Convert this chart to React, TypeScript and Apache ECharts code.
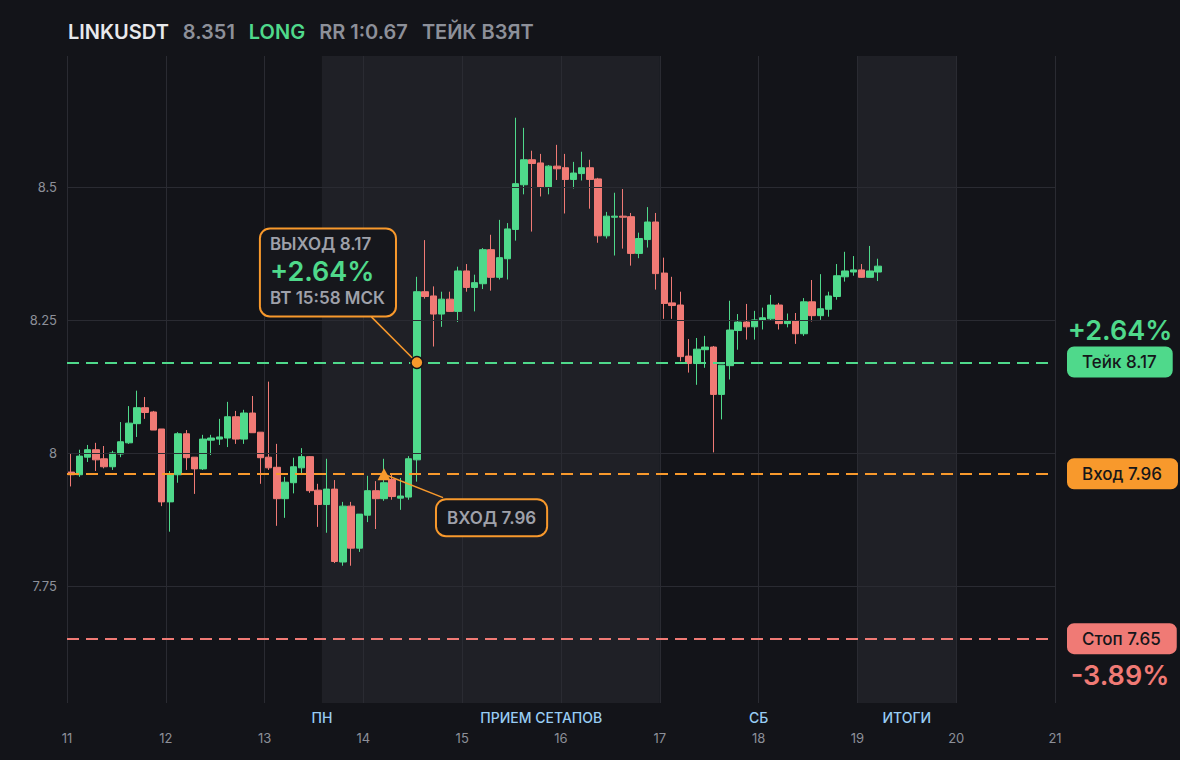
import React, { useEffect, useRef } from "react";
import * as echarts from "echarts";

// ---- data (2h candles, 12 per day, starting at day 11) ----
const startDay = 11;
const candlesPerDay = 12;
const opens = [
  7.964, 7.959, 7.992, 8.006, 7.989, 7.974, 7.998, 8.019, 8.055, 8.085,
  8.077, 8.045, 7.908, 7.959, 8.036, 7.992, 7.970, 8.024, 8.026, 8.028,
  8.068, 8.026, 8.075, 8.039, 7.992, 7.973, 7.914, 7.944, 7.972, 7.993,
  7.930, 7.903, 7.932, 7.795, 7.900, 7.821, 7.883, 7.929, 7.914, 7.950,
  7.915, 7.917, 7.987, 8.303, 8.295, 8.261, 8.289, 8.266, 8.342, 8.311,
  8.318, 8.382, 8.330, 8.365, 8.420, 8.504, 8.551, 8.545, 8.500, 8.539,
  8.536, 8.514, 8.525, 8.536, 8.515, 8.408, 8.443, 8.445, 8.444, 8.375,
  8.401, 8.434, 8.338, 8.282, 8.278, 8.182, 8.168, 8.194, 8.199, 8.110,
  8.164, 8.230, 8.246, 8.237, 8.249, 8.252, 8.278, 8.243, 8.248, 8.224,
  8.284, 8.258, 8.270, 8.294, 8.331, 8.340, 8.344, 8.330, 8.340,
];
const closes = [
  7.959, 7.994, 8.006, 7.987, 7.974, 8.000, 8.021, 8.056, 8.085, 8.076,
  8.043, 7.908, 7.959, 8.036, 7.991, 7.970, 8.026, 8.028, 8.030, 8.068,
  8.026, 8.075, 8.038, 7.991, 7.972, 7.914, 7.945, 7.974, 7.993, 7.929,
  7.903, 7.932, 7.796, 7.900, 7.821, 7.885, 7.929, 7.914, 7.944, 7.918,
  7.919, 7.989, 8.303, 8.294, 8.261, 8.289, 8.266, 8.342, 8.311, 8.320,
  8.382, 8.330, 8.367, 8.421, 8.506, 8.551, 8.544, 8.500, 8.539, 8.534,
  8.514, 8.526, 8.536, 8.514, 8.408, 8.445, 8.445, 8.443, 8.375, 8.403,
  8.434, 8.337, 8.281, 8.277, 8.181, 8.168, 8.195, 8.199, 8.110, 8.165,
  8.231, 8.246, 8.237, 8.250, 8.254, 8.278, 8.243, 8.248, 8.224, 8.284,
  8.258, 8.271, 8.295, 8.333, 8.342, 8.344, 8.330, 8.342, 8.351,
];
const lows = [
  7.937, 7.955, 7.983, 7.966, 7.971, 7.968, 7.992, 8.017, 8.030, 8.064,
  8.043, 7.900, 7.852, 7.944, 7.968, 7.923, 7.968, 7.996, 8.015, 8.011,
  8.017, 8.017, 8.038, 7.942, 7.968, 7.863, 7.878, 7.924, 7.961, 7.925,
  7.861, 7.850, 7.793, 7.788, 7.788, 7.814, 7.870, 7.857, 7.910, 7.912,
  7.893, 7.912, 7.946, 8.290, 8.200, 8.237, 8.265, 8.246, 8.303, 8.266,
  8.308, 8.305, 8.326, 8.326, 8.399, 8.486, 8.416, 8.482, 8.486, 8.513,
  8.450, 8.497, 8.512, 8.459, 8.395, 8.403, 8.371, 8.384, 8.352, 8.366,
  8.386, 8.307, 8.252, 8.252, 8.172, 8.151, 8.128, 8.160, 8.001, 8.063,
  8.138, 8.194, 8.213, 8.213, 8.232, 8.249, 8.232, 8.236, 8.205, 8.220,
  8.247, 8.250, 8.256, 8.288, 8.322, 8.333, 8.329, 8.330, 8.323,
];
const highs = [
  7.998, 8.006, 8.015, 8.019, 8.013, 8.004, 8.058, 8.088, 8.117, 8.105,
  8.079, 8.045, 7.966, 8.039, 8.043, 7.992, 8.034, 8.034, 8.064, 8.096,
  8.079, 8.081, 8.107, 8.039, 8.134, 8.017, 7.955, 7.991, 8.009, 7.994,
  7.942, 7.989, 7.949, 7.908, 7.908, 7.885, 7.957, 7.947, 7.989, 7.959,
  7.953, 7.994, 8.331, 8.400, 8.313, 8.303, 8.303, 8.350, 8.355, 8.335,
  8.385, 8.410, 8.438, 8.432, 8.630, 8.611, 8.568, 8.562, 8.541, 8.579,
  8.562, 8.547, 8.566, 8.551, 8.517, 8.453, 8.489, 8.496, 8.451, 8.414,
  8.462, 8.451, 8.367, 8.331, 8.303, 8.214, 8.216, 8.220, 8.201, 8.165,
  8.286, 8.261, 8.280, 8.267, 8.273, 8.297, 8.282, 8.262, 8.263, 8.291,
  8.325, 8.336, 8.303, 8.355, 8.378, 8.370, 8.355, 8.389, 8.365,
];

const yTicks = [7.75, 8, 8.25, 8.5];
const dayTicks = [11, 12, 13, 14, 15, 16, 17, 18, 19, 20, 21];
const sessionNames = ["ПН", "ПРИЕМ СЕТАПОВ", "СБ", "ИТОГИ"];
const sessionPos = [13.58, 15.8, 18, 19.5];
const shadedRanges = [
  [13.58, 17],
  [19, 20],
];

const ENTRY = 7.96;
const TAKE = 8.17;
const STOP = 7.65;
const LAST = 8.351;
const takePct = "+2.64%";
const stopPct = "-3.89%";
const entryIdx = 38;
const exitIdx = 42;
const exitTime = "ВТ 15:58 МСК";

// ---- styles ----
const BG = "#131419";
const SHADE = "#1f2026";
const GRIDC = "#2a2b32";
const GREEN = "#4fd98b";
const RED = "#f07a75";
const ORANGE = "#f8992c";
const GREY = "#8d9099";
const FONT = "Inter";

const xOf = (i: number) => startDay + (i + 0.5) / candlesPerDay;

export default function App() {
  const ref = useRef<HTMLDivElement>(null);

  useEffect(() => {
    if (!ref.current) return;
    const chart = echarts.init(ref.current, null, { renderer: "svg" });
    const candleData = opens.map((o, i) => [xOf(i), o, closes[i], lows[i], highs[i]]);
    const xExit = xOf(exitIdx);
    const xEntry = xOf(entryIdx);

    const badge = (bg: string) => ({
      show: true,
      position: "inside",
      align: "left",
      verticalAlign: "middle",
      offset: [12, 0],
      backgroundColor: bg,
      borderRadius: 7,
      padding: [7, 16, 7, 15],
      color: "#15161a",
      fontSize: 17,
      fontWeight: 500,
      lineHeight: 17,
      fontFamily: FONT,
    });
    const hidden = { color: "rgba(0,0,0,0)" };

    const option: any = {
      animation: false,
      backgroundColor: BG,
      textStyle: { fontFamily: FONT },
      title: {
        left: 63,
        top: 17,
        text: `{w|LINKUSDT}{g|${LAST}}{l|LONG}{g|RR 1:0.67}{t|ТЕЙК ВЗЯТ}`,
        textStyle: {
          rich: {
            w: { color: "#e8e9ec", fontSize: 20, fontWeight: 600, fontFamily: FONT, padding: [0, 14, 0, 0] },
            g: { color: GREY, fontSize: 20, fontWeight: 600, fontFamily: FONT, padding: [0, 14, 0, 0] },
            l: { color: GREEN, fontSize: 20, fontWeight: 600, fontFamily: FONT, padding: [0, 14, 0, 0] },
            t: { color: GREY, fontSize: 20, fontWeight: 600, fontFamily: FONT },
          },
        },
      },
      grid: { left: 67, right: 125, top: 56, bottom: 57 },
      xAxis: [
        {
          type: "value",
          min: 11,
          max: 21,
          interval: 1,
          axisLine: { show: false },
          axisTick: { show: false },
          splitLine: { show: false },
          axisLabel: { color: GREY, fontSize: 13, margin: 28, fontFamily: FONT },
        },
        {
          type: "value",
          min: 11,
          max: 21,
          position: "bottom",
          axisLine: { show: false },
          axisTick: { show: false },
          splitLine: { show: false },
          axisLabel: {
            customValues: sessionPos,
            color: "#98cdf4",
            fontSize: 14,
            fontWeight: 500,
            margin: 7,
            fontFamily: FONT,
            formatter: (v: number) => {
              let best = 0;
              sessionPos.forEach((p, k) => {
                if (Math.abs(p - v) < Math.abs(sessionPos[best] - v)) best = k;
              });
              return sessionNames[best];
            },
          },
        },
      ],
      yAxis: {
        type: "value",
        min: 7.53,
        max: 8.746,
        axisLine: { show: false },
        axisTick: { show: false },
        splitLine: { show: false },
        axisLabel: { customValues: yTicks, color: GREY, fontSize: 13, margin: 10, fontFamily: FONT },
      },
      series: [
        {
          type: "line",
          data: [],
          z: 1,
          silent: true,
          markArea: {
            silent: true,
            itemStyle: { color: SHADE },
            data: shadedRanges.map(([a, b]) => [{ xAxis: a }, { xAxis: b }]),
          },
        },
        {
          type: "line",
          data: [],
          z: 2,
          silent: true,
          markLine: {
            silent: true,
            symbol: ["none", "none"],
            label: { show: false },
            lineStyle: { color: GRIDC, width: 1, type: "solid" },
            data: [...yTicks.map((v) => ({ yAxis: v })), ...dayTicks.map((d) => ({ xAxis: d }))],
          },
        },
        {
          type: "candlestick",
          z: 3,
          silent: true,
          barWidth: 7,
          dimensions: ["t", "open", "close", "low", "high"],
          encode: { x: 0, y: [1, 2, 3, 4] },
          data: candleData,
          itemStyle: { color: GREEN, color0: RED, borderColor: GREEN, borderColor0: RED, borderWidth: 1 },
        },
        {
          type: "line",
          data: [],
          z: 4,
          silent: true,
          markLine: {
            silent: true,
            symbol: ["none", "none"],
            label: { show: false },
            data: [
              { yAxis: TAKE, lineStyle: { color: GREEN, width: 2, type: [12, 7] } },
              { yAxis: ENTRY, lineStyle: { color: ORANGE, width: 2, type: [12, 7] } },
              { yAxis: STOP, lineStyle: { color: RED, width: 2, type: [12, 7] } },
              [
                { coord: [xExit, TAKE], lineStyle: { color: ORANGE, width: 1.5, type: "solid" } },
                { coord: [14.081, 8.2557] },
              ],
              [
                { coord: [xEntry, ENTRY], lineStyle: { color: ORANGE, width: 1.5, type: "solid" } },
                { coord: [14.806, 7.916] },
              ],
            ],
          },
        },
        {
          type: "line",
          data: [],
          z: 5,
          silent: true,
          markPoint: {
            silent: true,
            data: [
              {
                coord: [xExit, TAKE],
                symbol: "circle",
                symbolSize: 12,
                itemStyle: { color: ORANGE, borderColor: "#15161a", borderWidth: 1.5 },
                label: {
                  show: true,
                  position: "inside",
                  align: "left",
                  verticalAlign: "top",
                  offset: [-156, -133],
                  formatter: `{a|ВЫХОД ${TAKE}}\n{b|${takePct}}\n{a|${exitTime}}`,
                  backgroundColor: "#16171c",
                  borderColor: ORANGE,
                  borderWidth: 2,
                  borderRadius: 9,
                  padding: [3, 10, 5, 9],
                  rich: {
                    a: { color: "#9fa1aa", fontSize: 17, fontWeight: 600, lineHeight: 24, fontFamily: FONT },
                    b: { color: GREEN, fontSize: 27, fontWeight: 600, lineHeight: 30, fontFamily: FONT },
                  },
                },
              },
              {
                coord: [xEntry, ENTRY],
                symbol: "triangle",
                symbolSize: [13, 12],
                itemStyle: { color: ORANGE },
                label: {
                  show: true,
                  position: "inside",
                  align: "left",
                  verticalAlign: "top",
                  offset: [53, 26],
                  formatter: `ВХОД ${ENTRY}`,
                  color: "#9fa1aa",
                  fontSize: 17,
                  fontWeight: 600,
                  lineHeight: 19,
                  fontFamily: FONT,
                  backgroundColor: "#16171c",
                  borderColor: ORANGE,
                  borderWidth: 2,
                  borderRadius: 9,
                  padding: [8, 10, 8, 10],
                },
              },
              {
                coord: [21, TAKE],
                symbolSize: 1,
                itemStyle: hidden,
                label: { ...badge(GREEN), formatter: `Тейк ${TAKE}` },
              },
              {
                coord: [21, ENTRY],
                symbolSize: 1,
                itemStyle: hidden,
                label: { ...badge(ORANGE), formatter: `Вход ${ENTRY}` },
              },
              {
                coord: [21, STOP],
                symbolSize: 1,
                itemStyle: hidden,
                label: { ...badge(RED), formatter: `Стоп ${STOP}` },
              },
              {
                coord: [21, TAKE],
                symbolSize: 1,
                itemStyle: hidden,
                label: {
                  show: true,
                  position: "inside",
                  align: "center",
                  verticalAlign: "middle",
                  offset: [65, -31],
                  formatter: takePct,
                  color: GREEN,
                  fontSize: 27,
                  fontWeight: 600,
                  fontFamily: FONT,
                },
              },
              {
                coord: [21, STOP],
                symbolSize: 1,
                itemStyle: hidden,
                label: {
                  show: true,
                  position: "inside",
                  align: "center",
                  verticalAlign: "middle",
                  offset: [65, 37],
                  formatter: stopPct,
                  color: RED,
                  fontSize: 27,
                  fontWeight: 600,
                  fontFamily: FONT,
                },
              },
            ],
          },
        },
      ],
    };

    chart.setOption(option);
    return () => chart.dispose();
  }, []);

  return (
    <div
      ref={ref}
      style={{ position: "fixed", left: 0, top: 0, width: 1180, height: 760, background: BG }}
    />
  );
}
